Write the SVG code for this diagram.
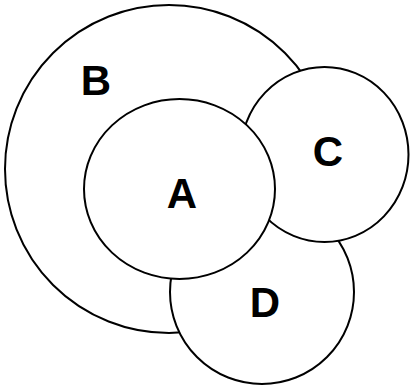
<svg xmlns="http://www.w3.org/2000/svg" width="410" height="389" viewBox="0 0 410 389">
<style>
.c{fill:#fff;stroke:#000;stroke-width:2}
.t{font-family:"Liberation Sans",Arial,sans-serif;font-weight:bold;font-size:42px;text-anchor:middle;fill:#000}
</style>
<rect width="410" height="389" fill="#fff"/>
<g id="B"><circle class="c" cx="169" cy="169" r="164"/><text class="t" x="96" y="95">B</text></g>
<g id="D"><circle class="c" cx="262" cy="292" r="92"/><text class="t" x="265" y="317">D</text></g>
<g id="C"><ellipse class="c" cx="324.5" cy="154.5" rx="84" ry="87.5"/><text class="t" x="328" y="166">C</text></g>
<g id="A"><ellipse class="c" cx="179.5" cy="189" rx="95.5" ry="90"/><text class="t" x="182" y="208">A</text></g>
<g id="connectors"/>
</svg>
